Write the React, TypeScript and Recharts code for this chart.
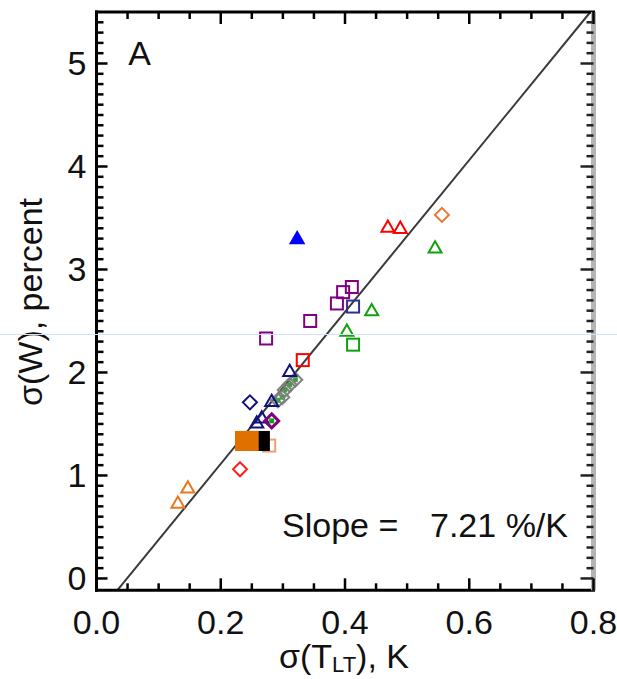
import { ScatterChart, Scatter, XAxis, YAxis, ReferenceLine } from "recharts";

// tick positions
const xTicks = [0, 0.05, 0.1, 0.15, 0.2, 0.25, 0.3, 0.35, 0.4, 0.45, 0.5, 0.55, 0.6, 0.65, 0.7, 0.75, 0.8];
const yTicks = [
  0, 0.1, 0.2, 0.3, 0.4, 0.5, 0.6, 0.7, 0.8, 0.9, 1, 1.1, 1.2, 1.3, 1.4, 1.5, 1.6, 1.7, 1.8, 1.9,
  2, 2.1, 2.2, 2.3, 2.4, 2.5, 2.6, 2.7, 2.8, 2.9, 3, 3.1, 3.2, 3.3, 3.4, 3.5, 3.6, 3.7, 3.8, 3.9,
  4, 4.1, 4.2, 4.3, 4.4, 4.5, 4.6, 4.7, 4.8, 4.9, 5, 5.1, 5.2, 5.3, 5.4,
];

// sigma(T_LT) vs sigma(W) points, by symbol
const redTriangles = [{ x: 0.469, y: 3.42 }, { x: 0.489, y: 3.41 }];
const redSquares = [{ x: 0.332, y: 2.12 }];
const redDiamonds = [{ x: 0.231, y: 1.06 }];
const orangeDiamonds = [{ x: 0.556, y: 3.53 }];
const orangeTriangles = [{ x: 0.147, y: 0.89 }, { x: 0.131, y: 0.74 }];
const orangeFilled = [{ x: 0.239, y: 1.335 }, { x: 0.245, y: 1.335 }];
const blackFilled = [{ x: 0.263, y: 1.335 }];
const salmonSquares = [{ x: 0.278, y: 1.29 }];
const greenTriangles = [{ x: 0.545, y: 3.22 }, { x: 0.443, y: 2.61 }, { x: 0.403, y: 2.41 }];
const greenSquares = [{ x: 0.413, y: 2.27 }];
const purpleSquares = [
  { x: 0.411, y: 2.83 }, { x: 0.397, y: 2.78 }, { x: 0.387, y: 2.67 }, { x: 0.344, y: 2.5 }, { x: 0.273, y: 2.33 },
];
const navySquares = [{ x: 0.413, y: 2.64 }];
const navyTriangles = [{ x: 0.311, y: 2.02 }, { x: 0.282, y: 1.73 }, { x: 0.266, y: 1.57 }, { x: 0.258, y: 1.52 }];
const navyDiamonds = [{ x: 0.247, y: 1.71 }];
const blueFilled = [{ x: 0.323, y: 3.31 }];
const grayDiamonds = [
  { x: 0.32, y: 1.93 }, { x: 0.311, y: 1.88 }, { x: 0.303, y: 1.83 }, { x: 0.299, y: 1.76 }, { x: 0.292, y: 1.73 },
];
const purpleStars = [{ x: 0.282, y: 1.53 }];
const fitLine = [{ x: 0.0334, y: -0.115 }, { x: 0.795, y: 5.5 }];

const FONT = '"Liberation Sans", Arial, Helvetica, sans-serif';
const TXT = "#111";

const marker = (kind: string, color: string, filled = false, size = 13, inner?: string) => (props: any) => {
  const { cx, cy } = props;
  if (cx == null || cy == null) return <g />;
  const fill = filled ? color : "none";
  if (kind === "triangle") {
    const h = size * 0.866;
    const pts = `${cx},${cy - h / 2} ${cx - size / 2},${cy + h / 2} ${cx + size / 2},${cy + h / 2}`;
    return <polygon points={pts} fill={fill} stroke={color} strokeWidth={2} />;
  }
  if (kind === "square") {
    return <rect x={cx - size / 2} y={cy - size / 2} width={size} height={size} fill={fill} stroke={filled ? "none" : color} strokeWidth={2} />;
  }
  const r = size / 2;
  const pts = `${cx},${cy - r} ${cx + r},${cy} ${cx},${cy + r} ${cx - r},${cy}`;
  return (
    <g>
      <polygon points={pts} fill={fill} stroke={color} strokeWidth={kind === "star" ? 3 : 2} />
      {inner && <rect x={cx - 2.5} y={cy - 2.5} width={5} height={5} fill={inner} />}
    </g>
  );
};

const isMajorX = (v: number) => Math.abs(v / 0.2 - Math.round(v / 0.2)) < 1e-6;
const isMajorY = (v: number) => Math.abs(v - Math.round(v)) < 1e-6;

const BottomTick = ({ x, y, payload }: any) => {
  const major = isMajorX(payload.value);
  return (
    <g>
      <line x1={x} y1={y} x2={x} y2={y - (major ? 12 : 7)} stroke="#000" strokeWidth={2.5} />
      {major && (
        <text x={x} y={y + 44} textAnchor="middle" fontSize={34} fontFamily={FONT} fill={TXT}>
          {payload.value.toFixed(1)}
        </text>
      )}
    </g>
  );
};

const TopTick = ({ x, y, payload }: any) => {
  const major = isMajorX(payload.value);
  return <line x1={x} y1={y} x2={x} y2={y + (major ? 12 : 7)} stroke="#000" strokeWidth={2.5} />;
};

const LeftTick = ({ x, y, payload }: any) => {
  const major = isMajorY(payload.value);
  return (
    <g>
      <line x1={x} y1={y} x2={x + (major ? 11 : 7)} y2={y} stroke="#000" strokeWidth={2.5} />
      {major && (
        <text x={x - 10} y={y + 12} textAnchor="end" fontSize={34} fontFamily={FONT} fill={TXT}>
          {payload.value}
        </text>
      )}
    </g>
  );
};

const RightTick = ({ x, y, payload }: any) => {
  const major = isMajorY(payload.value);
  return <line x1={x} y1={y} x2={x - (major ? 13 : 7)} y2={y} stroke="#222" strokeWidth={2.5} />;
};

export default function App() {
  return (
    <div style={{ position: "absolute", left: 0, top: 0, width: 617, height: 679, background: "#fff" }}>
      <ScatterChart width={617} height={679} margin={{ top: 7, right: 13.5, left: 36.5, bottom: 58.7 }}>
        <XAxis
          xAxisId="b"
          type="number"
          dataKey="x"
          domain={[0, 0.8]}
          ticks={xTicks}
          interval={0}
          allowDataOverflow
          height={30}
          tickSize={0}
          tickMargin={0}
          tickLine={false}
          axisLine={{ stroke: "#000", strokeWidth: 3, strokeLinecap: "square" }}
          tick={<BottomTick />}
        />
        <XAxis
          xAxisId="t"
          orientation="top"
          type="number"
          dataKey="x"
          domain={[0, 0.8]}
          ticks={xTicks}
          interval={0}
          allowDataOverflow
          height={5}
          tickSize={0}
          tickMargin={0}
          tickLine={false}
          axisLine={{ stroke: "#000", strokeWidth: 3, strokeLinecap: "square" }}
          tick={<TopTick />}
        />
        <YAxis
          yAxisId="l"
          type="number"
          dataKey="y"
          domain={[-0.115, 5.5]}
          ticks={yTicks}
          interval={0}
          allowDataOverflow
          width={60}
          tickSize={0}
          tickMargin={0}
          tickLine={false}
          axisLine={{ stroke: "#000", strokeWidth: 3, strokeLinecap: "square" }}
          tick={<LeftTick />}
        />
        <YAxis
          yAxisId="r"
          orientation="right"
          type="number"
          dataKey="y"
          domain={[-0.115, 5.5]}
          ticks={yTicks}
          interval={0}
          allowDataOverflow
          width={10}
          tickSize={0}
          tickMargin={0}
          tickLine={false}
          axisLine={{ stroke: "#b4b4b4", strokeWidth: 5 }}
          tick={<RightTick />}
        />
        <ReferenceLine
          xAxisId="b"
          yAxisId="l"
          segment={fitLine}
          stroke="#3a3a3a"
          strokeWidth={2}
          ifOverflow="visible"
        />
        <Scatter xAxisId="b" yAxisId="l" data={salmonSquares} shape={marker("square", "#f0a070", false, 12)} isAnimationActive={false} />
        <Scatter xAxisId="b" yAxisId="l" data={blackFilled} shape={marker("square", "#000", true, 20)} isAnimationActive={false} />
        <Scatter xAxisId="b" yAxisId="l" data={orangeFilled} shape={marker("square", "#e07000", true, 20)} isAnimationActive={false} />
        <Scatter xAxisId="b" yAxisId="l" data={redTriangles} shape={marker("triangle", "#ff0000", false, 13)} isAnimationActive={false} />
        <Scatter xAxisId="b" yAxisId="l" data={redSquares} shape={marker("square", "#ff0000", false, 12)} isAnimationActive={false} />
        <Scatter xAxisId="b" yAxisId="l" data={redDiamonds} shape={marker("diamond", "#ff2020", false, 14)} isAnimationActive={false} />
        <Scatter xAxisId="b" yAxisId="l" data={orangeDiamonds} shape={marker("diamond", "#e87830", false, 14)} isAnimationActive={false} />
        <Scatter xAxisId="b" yAxisId="l" data={orangeTriangles} shape={marker("triangle", "#e87820", false, 13)} isAnimationActive={false} />
        <Scatter xAxisId="b" yAxisId="l" data={greenTriangles} shape={marker("triangle", "#10a010", false, 13)} isAnimationActive={false} />
        <Scatter xAxisId="b" yAxisId="l" data={greenSquares} shape={marker("square", "#10a010", false, 12)} isAnimationActive={false} />
        <Scatter xAxisId="b" yAxisId="l" data={purpleSquares} shape={marker("square", "#800080", false, 12)} isAnimationActive={false} />
        <Scatter xAxisId="b" yAxisId="l" data={navySquares} shape={marker("square", "#303090", false, 12)} isAnimationActive={false} />
        <Scatter xAxisId="b" yAxisId="l" data={grayDiamonds} shape={marker("diamond", "#808080", false, 14, "#40a040")} isAnimationActive={false} />
        <Scatter xAxisId="b" yAxisId="l" data={navyTriangles} shape={marker("triangle", "#101080", false, 13)} isAnimationActive={false} />
        <Scatter xAxisId="b" yAxisId="l" data={navyDiamonds} shape={marker("diamond", "#101080", false, 14)} isAnimationActive={false} />
        <Scatter xAxisId="b" yAxisId="l" data={purpleStars} shape={marker("star", "#800080", false, 14, "#10a010")} isAnimationActive={false} />
        <Scatter xAxisId="b" yAxisId="l" data={blueFilled} shape={marker("triangle", "#0000ff", true, 13)} isAnimationActive={false} />
      </ScatterChart>
      <svg width={617} height={679} style={{ position: "absolute", left: 0, top: 0, pointerEvents: "none" }}>
        <text x={139.5} y={65} textAnchor="middle" fontSize={34} fontFamily={FONT} fill={TXT}>A</text>
        <text x={282} y={537} fontSize={34} fontFamily={FONT} fill={TXT}>Slope =</text>
        <text x={568} y={537} textAnchor="end" fontSize={34} fontFamily={FONT} fill={TXT}>7.21 %/K</text>
        <text x={344} y={668} textAnchor="middle" fontSize={34} fontFamily={FONT} fill={TXT}>
          σ(T<tspan fontSize={22} dy={4}>LT</tspan><tspan dy={-4}>), K</tspan>
        </text>
        <text x={42} y={302} transform="rotate(-90 42 302)" textAnchor="middle" fontSize={34} fontFamily={FONT} fill={TXT}>
          σ(W), percent
        </text>
      </svg>
      <div style={{ position: "absolute", left: 0, top: 334, width: 617, height: 1, background: "#d4e2f4" }} />
    </div>
  );
}
